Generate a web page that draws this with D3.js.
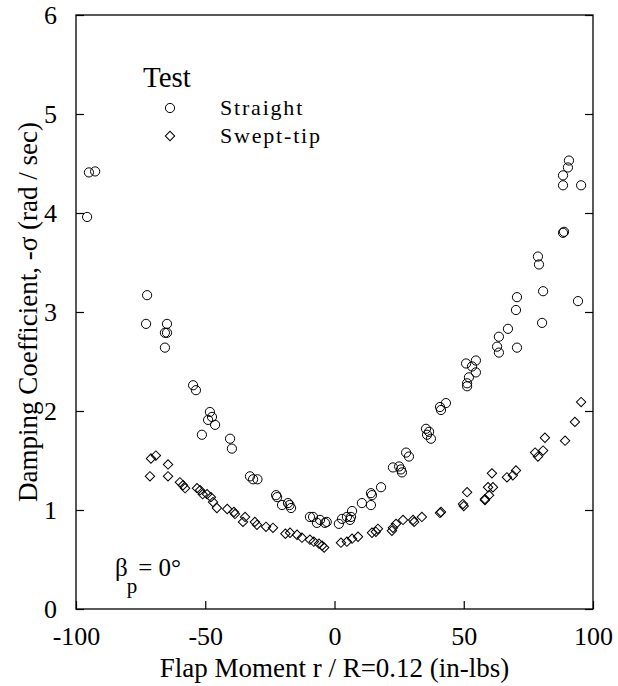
<!DOCTYPE html>
<html><head><meta charset="utf-8">
<script src="https://cdn.jsdelivr.net/npm/d3@7"></script>
<style>
body{margin:0;background:#fff;}
svg{display:block;}
text{font-family:"Liberation Serif","Times New Roman",serif;fill:#000;}
</style></head><body>
<script>
const xTicks = [-100, -50, 0, 50, 100];
const yTicks = [0, 1, 2, 3, 4, 5, 6];
const xTickLabels = ["-100", "-50", "0", "50", "100"];
const yTickLabels = ["0", "1", "2", "3", "4", "5", "6"];
const seriesNames = ["Straight", "Swept-tip"];
const straightX = [-95.7,-95.0,-92.6,-72.5,-72.9,-64.8,-65.6,-64.8,-65.6,-54.7,-53.6,-48.2,-47.4,-48.9,-46.2,-51.3,-40.4,-39.7,-32.7,-31.5,-29.8,-22.6,-22.2,-20.3,-18.0,-16.8,-17.4,-9.5,-8.3,-6.8,-5.6,-3.7,-3.0,1.7,2.9,4.8,6.0,6.4,6.8,10.6,14.1,14.5,14.1,18.0,22.6,25.0,25.7,26.1,27.7,28.8,35.4,36.6,35.8,37.3,40.8,41.2,43.1,50.9,51.3,51.3,52.0,53.2,54.7,54.7,62.9,63.6,63.6,67.1,70.6,70.2,70.6,78.7,79.1,80.7,80.3,88.4,88.8,88.4,88.4,90.3,90.7,95.4,94.2];
const straightY = [3.96,4.41,4.42,3.17,2.88,2.88,2.79,2.79,2.64,2.26,2.21,1.99,1.94,1.91,1.86,1.76,1.72,1.62,1.34,1.31,1.31,1.15,1.13,1.05,1.07,1.02,1.05,0.93,0.93,0.87,0.90,0.87,0.88,0.86,0.91,0.93,0.90,0.93,0.99,1.07,1.17,1.15,1.05,1.23,1.43,1.44,1.41,1.38,1.58,1.54,1.82,1.79,1.76,1.72,2.04,2.01,2.08,2.48,2.28,2.25,2.34,2.45,2.51,2.39,2.65,2.59,2.75,2.83,2.64,3.02,3.15,3.56,3.48,3.21,2.89,3.80,3.81,4.28,4.38,4.46,4.53,4.28,3.11];
const sweptX = [-71.0,-69.1,-71.4,-64.4,-64.4,-59.8,-58.6,-57.8,-53.2,-52.0,-51.0,-49.3,-47.8,-47.0,-45.5,-41.5,-38.9,-38.5,-34.6,-35.4,-30.8,-30.0,-26.5,-23.8,-19.0,-17.2,-14.5,-12.6,-9.5,-8.0,-6.0,-4.8,-4.0,2.5,4.8,6.8,9.1,14.5,16.0,16.8,22.2,22.6,23.8,26.5,30.4,30.8,33.8,40.8,41.2,49.7,50.0,51.3,58.2,58.2,59.4,59.8,60.9,61.3,66.7,69.0,70.2,77.6,78.7,80.7,81.4,89.2,93.0,95.4];
const sweptY = [1.52,1.55,1.34,1.46,1.34,1.28,1.25,1.22,1.22,1.20,1.16,1.16,1.13,1.08,1.02,1.01,0.98,0.96,0.93,0.88,0.88,0.85,0.83,0.82,0.76,0.77,0.75,0.72,0.70,0.68,0.66,0.64,0.62,0.67,0.68,0.71,0.73,0.77,0.78,0.81,0.79,0.82,0.86,0.90,0.90,0.88,0.93,0.97,0.98,1.06,1.04,1.18,1.10,1.11,1.23,1.15,1.37,1.23,1.33,1.35,1.40,1.58,1.54,1.60,1.73,1.70,1.89,2.09];

const W = 618, H = 686;
const m = {left: 76, top: 15, right: 25, bottom: 77};
const iw = W - m.left - m.right, ih = H - m.top - m.bottom;
const svg = d3.select("body").append("svg").attr("width", W).attr("height", H);
const g = svg.append("g").attr("transform", `translate(${m.left},${m.top})`);
const x = d3.scaleLinear().domain([-100, 100]).range([0, iw]);
const y = d3.scaleLinear().domain([0, 6]).range([ih, 0]);

g.append("rect").attr("width", iw).attr("height", ih).attr("fill", "none").attr("stroke", "#000").attr("stroke-width", 1.3);

const xAxis = g.append("g").attr("transform", `translate(0,${ih})`)
  .call(d3.axisBottom(x).tickValues(xTicks).tickSizeInner(-8).tickSizeOuter(0)
    .tickFormat((d, i) => xTickLabels[i]));
const yAxis = g.append("g")
  .call(d3.axisLeft(y).tickValues(yTicks).tickSizeInner(-8).tickSizeOuter(0)
    .tickFormat((d, i) => yTickLabels[i]));
const yAxisR = g.append("g").attr("transform", `translate(${iw},0)`)
  .call(d3.axisRight(y).tickValues(yTicks).tickSizeInner(-8).tickSizeOuter(0).tickFormat(""));
[xAxis, yAxis, yAxisR].forEach(a => {
  a.select(".domain").remove();
  a.selectAll("line").attr("stroke", "#000").attr("stroke-width", 1.2);
  a.selectAll("text").style("font-size", "26px").style("font-family", "'Liberation Serif',serif");
});
xAxis.selectAll("text").attr("y", 36).attr("dy", null);
yAxis.selectAll("text").attr("x", -19).attr("dy", "0.33em");

// markers
const straight = straightX.map((v, i) => ({x: v, y: straightY[i]}));
const swept = sweptX.map((v, i) => ({x: v, y: sweptY[i]}));
const diamond = d3.symbol().type(d3.symbolSquare).size(44);
g.selectAll(".sw").data(swept).join("path").attr("class", "sw")
  .attr("d", diamond()).attr("transform", d => `translate(${x(d.x)},${y(d.y)}) rotate(45)`)
  .attr("fill", "none").attr("stroke", "#000").attr("stroke-width", 1);
g.selectAll(".st").data(straight).join("circle").attr("class", "st")
  .attr("cx", d => x(d.x)).attr("cy", d => y(d.y)).attr("r", 4.6)
  .attr("fill", "none").attr("stroke", "#000").attr("stroke-width", 1);

// legend
const lg = svg.append("g");
lg.append("text").attr("x", 143).attr("y", 87).style("font-size", "29px").text("Test");
lg.append("circle").attr("cx", 170).attr("cy", 108).attr("r", 4.6).attr("fill", "none").attr("stroke", "#000");
lg.append("path").attr("d", diamond()).attr("transform", "translate(170,136) rotate(45)").attr("fill", "none").attr("stroke", "#000");
lg.append("text").attr("x", 220).attr("y", 115).style("font-size", "22px").style("letter-spacing", "1.8px").text(seriesNames[0]);
lg.append("text").attr("x", 220).attr("y", 143).style("font-size", "22px").style("letter-spacing", "1.8px").text(seriesNames[1]);

// beta annotation
const bt = svg.append("text").attr("x", 115).attr("y", 576).style("font-size", "25px");
bt.append("tspan").text("β");
bt.append("tspan").attr("dy", 17).attr("dx", -1).style("font-size", "21px").text("p");
bt.append("tspan").attr("dy", -17).attr("dx", 1).text("= 0°");

// axis titles
svg.append("text").attr("x", m.left + iw / 2).attr("y", 677).attr("text-anchor", "middle").style("font-size", "27px").text("Flap Moment r / R=0.12 (in-lbs)");
svg.append("text").attr("transform", `translate(37,${m.top + ih / 2}) rotate(-90)`).attr("text-anchor", "middle").style("font-size", "27px").text("Damping Coefficient, -σ (rad / sec)");
</script></body></html>
